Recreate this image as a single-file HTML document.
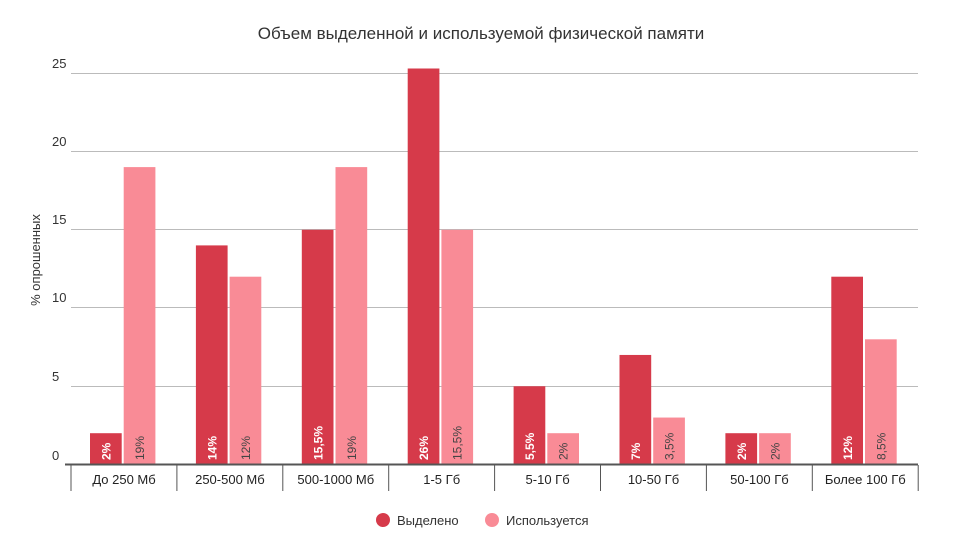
<!DOCTYPE html><html><head><meta charset="utf-8"><style>body{margin:0;background:#fff}svg{display:block;font-family:"Liberation Sans","DejaVu Sans",sans-serif}</style></head><body>
<svg width="962" height="552" viewBox="0 0 962 552">
<text x="481" y="39" text-anchor="middle" font-size="17" fill="#333">Объем выделенной и используемой физической памяти</text>
<g stroke="#bbb" stroke-width="1">
<line x1="71" x2="918" y1="73.5" y2="73.5"/><line x1="71" x2="918" y1="151.5" y2="151.5"/><line x1="71" x2="918" y1="229.5" y2="229.5"/><line x1="71" x2="918" y1="307.5" y2="307.5"/><line x1="71" x2="918" y1="386.5" y2="386.5"/>
</g>
<g font-size="13" fill="#333">
<text x="52" y="68">25</text><text x="52" y="146">20</text><text x="52" y="224">15</text><text x="52" y="302">10</text><text x="52" y="381">5</text><text x="52" y="460">0</text>
</g>
<text transform="translate(40,260) rotate(-90)" text-anchor="middle" font-size="13" fill="#333">% опрошенных</text>
<g fill="#d63a4a">
<rect x="90" y="433.2" width="31.7" height="31.3"/>
<rect x="195.9" y="245.4" width="31.7" height="219.1"/>
<rect x="301.8" y="229.75" width="31.7" height="234.75"/>
<rect x="407.7" y="68.5" width="31.7" height="396"/>
<rect x="513.6" y="386.25" width="31.7" height="78.25"/>
<rect x="619.5" y="354.95" width="31.7" height="109.55"/>
<rect x="725.4" y="433.2" width="31.7" height="31.3"/>
<rect x="831.3" y="276.7" width="31.7" height="187.8"/>
</g>
<g fill="#f98b96">
<rect x="123.7" y="167.1" width="31.7" height="297.4"/>
<rect x="229.6" y="276.7" width="31.7" height="187.8"/>
<rect x="335.5" y="167.1" width="31.7" height="297.4"/>
<rect x="441.4" y="229.75" width="31.7" height="234.75"/>
<rect x="547.3" y="433.2" width="31.7" height="31.3"/>
<rect x="653.2" y="417.55" width="31.7" height="46.95"/>
<rect x="759.1" y="433.2" width="31.7" height="31.3"/>
<rect x="865" y="339.3" width="31.7" height="125.2"/>
</g>
<g font-size="12" font-weight="bold" fill="#fff">
<text transform="translate(110.5,460) rotate(-90)">2%</text>
<text transform="translate(216.4,460) rotate(-90)">14%</text>
<text transform="translate(322.3,460) rotate(-90)">15,5%</text>
<text transform="translate(428.2,460) rotate(-90)">26%</text>
<text transform="translate(534.1,460) rotate(-90)">5,5%</text>
<text transform="translate(640,460) rotate(-90)">7%</text>
<text transform="translate(745.9,460) rotate(-90)">2%</text>
<text transform="translate(851.8,460) rotate(-90)">12%</text>
</g>
<g font-size="12" fill="#444">
<text transform="translate(144,460) rotate(-90)">19%</text>
<text transform="translate(249.9,460) rotate(-90)">12%</text>
<text transform="translate(355.8,460) rotate(-90)">19%</text>
<text transform="translate(461.7,460) rotate(-90)">15,5%</text>
<text transform="translate(567.6,460) rotate(-90)">2%</text>
<text transform="translate(673.5,460) rotate(-90)">3,5%</text>
<text transform="translate(779.4,460) rotate(-90)">2%</text>
<text transform="translate(885.3,460) rotate(-90)">8,5%</text>
</g>
<line x1="65" x2="918" y1="464.5" y2="464.5" stroke="#555" stroke-width="2"/>
<g stroke="#555" stroke-width="1">
<line x1="71" x2="71" y1="465" y2="491"/><line x1="176.9" x2="176.9" y1="465" y2="491"/><line x1="282.8" x2="282.8" y1="465" y2="491"/><line x1="388.7" x2="388.7" y1="465" y2="491"/><line x1="494.6" x2="494.6" y1="465" y2="491"/><line x1="600.5" x2="600.5" y1="465" y2="491"/><line x1="706.4" x2="706.4" y1="465" y2="491"/><line x1="812.3" x2="812.3" y1="465" y2="491"/><line x1="918.2" x2="918.2" y1="465" y2="491"/>
</g>
<g font-size="13" fill="#222" text-anchor="middle">
<text x="124" y="484">До 250 Мб</text><text x="229.9" y="484">250-500 Мб</text><text x="335.8" y="484">500-1000 Мб</text><text x="441.7" y="484">1-5 Гб</text><text x="547.6" y="484">5-10 Гб</text><text x="653.5" y="484">10-50 Гб</text><text x="759.4" y="484">50-100 Гб</text><text x="865.3" y="484">Более 100 Гб</text>
</g>
<circle cx="383" cy="520" r="7" fill="#d63a4a"/><text x="397" y="525" font-size="13" fill="#333">Выделено</text>
<circle cx="492" cy="520" r="7" fill="#f98b96"/><text x="506" y="525" font-size="13" fill="#333">Используется</text>
</svg></body></html>
